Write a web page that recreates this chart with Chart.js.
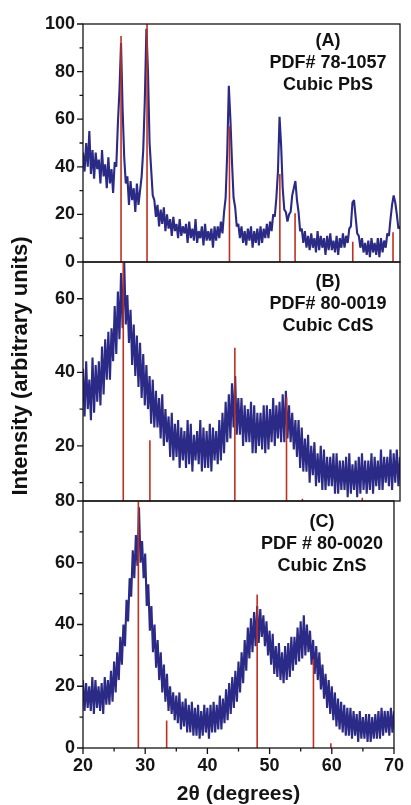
<!DOCTYPE html>
<html>
<head>
<meta charset="utf-8">
<script src="https://cdn.jsdelivr.net/npm/chart.js@4.4.1/dist/chart.umd.min.js"></script>
<style>
html,body{margin:0;padding:0;background:#fff;}
#wrap{position:relative;width:411px;height:805px;overflow:hidden;font-family:'Liberation Sans',Arial,sans-serif;}
canvas{position:absolute;left:0;top:0;}
.note{position:absolute;width:170px;text-align:center;font-weight:bold;font-size:18px;line-height:22px;color:#111;}
#ytitle{position:absolute;width:400px;height:22px;line-height:22px;text-align:center;font-weight:bold;font-size:22px;color:#111;transform:rotate(-90deg);left:-179.6px;top:355px;white-space:nowrap;}
</style>
</head>
<body>
<div id="wrap">
  <canvas id="cA" width="411" height="805"></canvas>
  <canvas id="cB" width="411" height="805"></canvas>
  <canvas id="cC" width="411" height="805"></canvas>
  <div class="note" style="left:243px;top:29px;">(A)<br>PDF# 78-1057<br>Cubic PbS</div>
  <div class="note" style="left:243px;top:270px;">(B)<br>PDF# 80-0019<br>Cubic CdS</div>
  <div class="note" style="left:237px;top:510px;">(C)<br>PDF # 80-0020<br>Cubic ZnS</div>
  <div id="ytitle">Intensity (arbitrary units)</div>
</div>
<script>
// ---- x grid (2θ, degrees): 20 → 70, step 0.25 ----
const X_START = 20, X_STEP = 0.25;

// ---- measured intensities, panel A (PbS) ----
const intensityA = [
 46,38,50,40, 55,37,47,35, 46,39,43,33, 47,36,41,31, 44,33,39,29,
 42,40,58,72, 92,64,44,33, 36,24,34,26, 31,21,33,24, 30,36,47,68,
 98,80,50,39, 28,26,19,24, 15,22,16,23, 13,20,14,18, 11,19,13,16,
 10,18,11,15, 12,16,8,17, 10,14,9,18, 8,13,10,15, 7,16,9,13,
 9,14,6,15, 9,15,10,17, 12,21,27,46, 74,60,42,27, 23,15,16,10,
 15,8,13,7, 14,9,15,6, 13,8,14,7, 15,8,14,10, 16,10,17,13,
 20,19,27,38, 61,49,31,22, 21,17,20,21, 28,31,34,26, 21,13,14,8,
 13,6,11,5, 12,6,10,4, 13,5,11,6, 10,3,11,5, 12,5,9,4,
 11,3,10,6, 12,6,11,8, 14,15,25,26, 19,12,11,6, 10,4,8,3,
 9,2,10,4, 8,3,10,2, 10,4,9,6, 12,11,18,24, 28,25,20,14,
 15
];
// ---- panel B (CdS) ----
const intensityB = [
 41,28,43,30, 38,27,44,29, 42,32,43,31, 47,34,49,38, 51,38,52,43,
 58,45,62,49, 67,52,70,53, 61,48,57,42, 53,39,50,36, 48,33,45,31,
 42,30,39,26, 38,25,35,25, 33,22,34,20, 30,21,28,17, 29,16,26,17,
 27,14,25,16, 24,14,27,15, 26,13,23,16, 24,15,27,13, 25,14,24,14,
 26,13,25,16, 24,15,27,16, 29,18,32,21, 34,22,37,25, 39,23,33,23,
 33,20,31,21, 30,21,32,18, 31,18,29,20, 29,19,31,18, 31,19,30,21,
 33,20,31,22, 32,21,34,21, 35,22,31,21, 29,19,27,17, 27,14,25,13,
 22,13,23,10, 20,12,21,9, 18,10,20,8, 19,8,17,9, 17,9,18,7,
 18,7,16,8, 16,8,17,6, 18,7,15,8, 16,6,17,7, 18,8,16,7,
 16,8,18,7, 17,9,16,8, 19,8,17,10, 17,9,19,8, 18,10,19,9,
 17
];
// ---- panel C (ZnS) ----
const intensityC = [
 22,12,21,13, 20,12,23,11, 22,13,20,12, 21,11,23,14, 22,14,25,15,
 28,18,31,22, 36,27,40,33, 48,41,55,49, 64,55,69,59, 78,60,67,55,
 63,46,53,38, 46,31,40,26, 35,22,31,18, 27,15,24,12, 20,11,18,9,
 17,8,18,6, 15,7,16,5, 14,5,15,4, 13,4,14,3, 12,4,14,5,
 13,3,14,5, 15,5,14,6, 17,6,16,8, 19,9,21,11, 23,13,25,15,
 28,18,31,21, 35,25,39,29, 42,31,44,33, 46,34,45,36, 43,33,41,30,
 38,27,37,24, 33,23,34,22, 31,21,33,22, 34,23,36,25, 36,27,39,28,
 41,29,43,30, 40,31,38,27, 35,24,33,22, 31,19,27,16, 24,13,22,11,
 20,9,18,7, 16,6,15,5, 14,4,13,4, 13,3,12,4, 11,2,12,3,
 10,3,11,2, 11,2,10,3, 11,3,12,3, 13,4,12,5, 12,4,13,5,
 12
];

// ---- reference (PDF) stick patterns ----
const stickPosA = [26.0, 30.1, 43.1, 51.05, 53.45, 62.55, 68.9];
const stickHA   = [95, 100, 57, 37, 20.5, 8.5, 12.5];
const stickPosB = [26.35, 30.55, 43.95, 52.1, 54.6, 64.05];
const stickHB   = [100, 21.5, 46.7, 33.2, 5.6, 5.9];
const stickPosC = [28.9, 33.45, 48.0, 57.05, 59.85];
const stickHC   = [100, 8.9, 49.7, 28.8, 1.5];

// ---- axis ticks ----
const xMajor = [20, 30, 40, 50, 60, 70];
const xMinor = [25, 35, 45, 55, 65];
const yMajorA = [0, 20, 40, 60, 80, 100];
const yMinorA = [10, 30, 50, 70, 90];
const yMajorB = [20, 40, 60];
const yMinorB = [10, 30, 50];
const yMajorC = [0, 20, 40, 60, 80];
const yMinorC = [10, 30, 50, 70];

const BLUE = '#2b2a86';
const RED = '#c0301f';
const INK = '#151515';
const FONT = "'Liberation Sans', Arial, sans-serif";

function curvePoints(vals) {
  return vals.map((v, i) => ({ x: X_START + i * X_STEP, y: v }));
}
function stickPoints(pos, h, base) {
  const pts = [];
  pos.forEach((p, i) => { pts.push({ x: p, y: base }, { x: p, y: h[i] }, { x: p, y: null }); });
  return pts;
}
function framePlugin(yMajor, yMinor, showX) {
  return {
    id: 'frameTicks',
    afterDatasetsDraw(chart) {
      const { ctx, chartArea: a, scales } = chart;
      ctx.save();
      ctx.strokeStyle = INK;
      ctx.lineWidth = 1.3;
      ctx.beginPath();
      yMajor.forEach(v => { const y = scales.y.getPixelForValue(v); ctx.moveTo(a.left - 6, y); ctx.lineTo(a.left, y); });
      yMinor.forEach(v => { const y = scales.y.getPixelForValue(v); ctx.moveTo(a.left - 3.5, y); ctx.lineTo(a.left, y); });
      if (showX) {
        xMajor.forEach(v => { const x = scales.x.getPixelForValue(v); ctx.moveTo(x, a.bottom); ctx.lineTo(x, a.bottom + 6); });
        xMinor.forEach(v => { const x = scales.x.getPixelForValue(v); ctx.moveTo(x, a.bottom); ctx.lineTo(x, a.bottom + 3.5); });
      }
      ctx.stroke();
      ctx.strokeRect(a.left, a.top, a.right - a.left, a.bottom - a.top);
      ctx.restore();
    }
  };
}

function makePanel(id, vals, sPos, sH, yMin, yMax, yMajor, yMinor, padTop, padBottom, showX) {
  const xScale = {
    type: 'linear', min: 20, max: 70, display: showX,
    grid: { display: false, drawTicks: false },
    border: { display: false },
    afterBuildTicks: s => { s.ticks = xMajor.map(v => ({ value: v })); },
    afterFit: s => { if (showX) s.height = 57; },
    ticks: { padding: 7, color: INK, font: { family: FONT, size: 18, weight: 'bold' }, maxRotation: 0, autoSkip: false },
    title: { display: true, text: '2θ (degrees)', color: INK, padding: { top: 0, bottom: 0 },
             font: { family: FONT, size: 21, weight: 'bold', lineHeight: 1 } }
  };
  return new Chart(document.getElementById(id), {
    type: 'line',
    data: {
      datasets: [
        { data: stickPoints(sPos, sH, yMin), borderColor: RED, borderWidth: 1.6, pointRadius: 0, spanGaps: false, order: 0 },
        { data: curvePoints(vals), borderColor: BLUE, borderWidth: 2.1, pointRadius: 0, tension: 0, borderJoinStyle: 'bevel', order: 1 }
      ]
    },
    options: {
      responsive: false, animation: false, events: [],
      layout: { padding: { top: padTop, bottom: padBottom, left: 0, right: 11 } },
      plugins: { legend: { display: false }, tooltip: { enabled: false } },
      scales: {
        x: xScale,
        y: {
          min: yMin, max: yMax,
          grid: { display: false, drawTicks: false },
          border: { display: false },
          afterBuildTicks: s => { s.ticks = yMajor.map(v => ({ value: v })); },
          afterFit: s => { s.width = 83; },
          ticks: { padding: 8, color: INK, font: { family: FONT, size: 18, weight: 'bold' } }
        }
      }
    },
    plugins: [framePlugin(yMajor, yMinor, showX)]
  });
}

makePanel('cA', intensityA, stickPosA, stickHA, 0, 100, yMajorA, yMinorA, 24, 543, false);
makePanel('cB', intensityB, stickPosB, stickHB, 5, 70, yMajorB, yMinorB, 262, 304, false);
makePanel('cC', intensityC, stickPosC, stickHC, 0, 80, yMajorC, yMinorC, 501, 0, true);
</script>
</body>
</html>
